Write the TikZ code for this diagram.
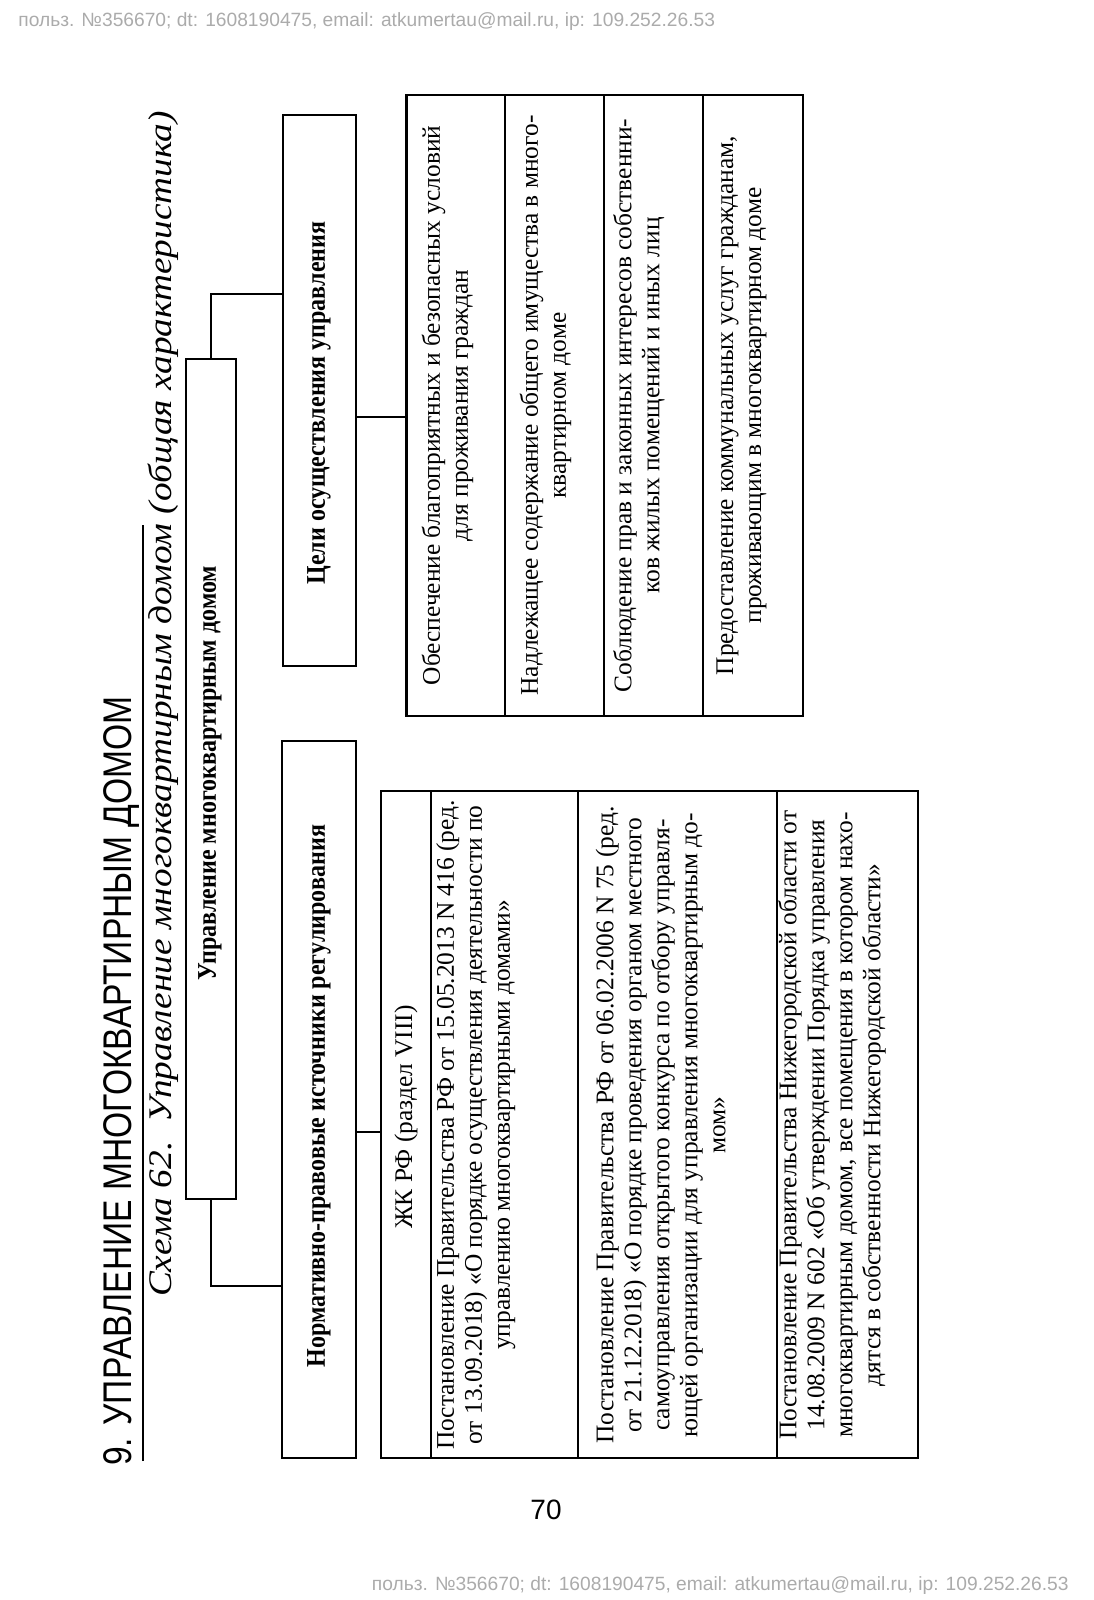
\documentclass[tikz,border=0pt]{standalone}
\usepackage{fontspec}
\setmainfont{Liberation Serif}
\setsansfont{Liberation Sans}
\newfontfamily\titlefont[FakeStretch=0.84]{Liberation Sans}
\newfontfamily\subfont[FakeStretch=1.13]{Liberation Serif}
\newfontfamily\headfont[FakeStretch=0.89]{Liberation Serif}
\begin{document}
\begin{tikzpicture}[x=0.5pt,y=-0.5pt,
  frame/.style={draw, line width=1.1pt, rotate=90, inner sep=0pt},
  conn/.style={line width=0.6pt},
  txt/.style={rotate=90, align=center, inner sep=0pt, font=\fontsize{12.7}{14}\selectfont},
  bld/.style={rotate=90, align=center, inner sep=0pt, font=\headfont\fontsize{13.5}{15}\selectfont\bfseries},
  wm/.style={inner sep=0pt, text=black!33, font=\sffamily\fontsize{9.6}{11}\selectfont},
]
\useasboundingbox (0,0) rectangle (1093,1600);

% watermarks
\node[wm, anchor=west] (wmtop) at (18,22) {польз. №356670; dt: 1608190475, email: atkumertau@mail.ru, ip: 109.252.26.53};
\node[wm, anchor=east] (wmbot) at (1069,1586) {польз. №356670; dt: 1608190475, email: atkumertau@mail.ru, ip: 109.252.26.53};
\node[inner sep=0pt, font=\sffamily\fontsize{14}{16}\selectfont] (pnum) at (546,1510) {70};

% title and subtitle
\node[rotate=90, inner sep=0pt, font=\titlefont\fontsize{20}{22}\selectfont] (title) at (122,1081) {9. УПРАВЛЕНИЕ МНОГОКВАРТИРНЫМ ДОМОМ};
\draw[line width=0.6pt] (143,1461) -- (143,525);
\node[rotate=90, inner sep=0pt, font=\subfont\fontsize{16.5}{18}\selectfont\itshape] (subtitle) at (163,704) {Схема 62.\ \ Управление многоквартирным домом (общая характеристика)};

% frames
\node[frame, minimum width=420pt, minimum height=25pt] (upr) at (211,779) {};
\node[frame, minimum width=275.5pt, minimum height=36.5pt] (goalhead) at (319.5,390.5) {};
\node[frame, minimum width=358.5pt, minimum height=37pt] (normhead) at (319,1099.5) {};

\node[frame, minimum width=310.5pt, minimum height=49.25pt] (g1) at (455.75,405.5) {};
\node[frame, minimum width=310.5pt, minimum height=49.5pt] (g2) at (554.5,405.5) {};
\node[frame, minimum width=310.5pt, minimum height=49.5pt] (g3) at (653.5,405.5) {};
\node[frame, minimum width=310.5pt, minimum height=49.85pt] (g4) at (752.85,405.5) {};

\node[frame, minimum width=333.5pt, minimum height=25pt] (s0) at (406,1124.5) {};
\node[frame, minimum width=333.5pt, minimum height=73.5pt] (s1) at (504.5,1124.5) {};
\node[frame, minimum width=333.5pt, minimum height=99.5pt] (s2) at (677.5,1124.5) {};
\node[frame, minimum width=333.5pt, minimum height=70.5pt] (s3) at (847.5,1124.5) {};

% texts
\node[bld] (uprt) at (210,773) {Управление многоквартирным домом};
\node[bld] (goalt) at (319,403) {Цели осуществления управления};
\node[bld] (normt) at (319,1096) {Нормативно-правовые источники регулирования};

\node[txt] (g1t) at (447.5,405.5) {Обеспечение благоприятных и безопасных условий\\для проживания граждан};
\node[txt] (g2t) at (545.5,405.5) {Надлежащее содержание общего имущества в много-\\квартирном доме};
\node[txt] (g3t) at (639,405.5) {Соблюдение прав и законных интересов собственни-\\ков жилых помещений и иных лиц};
\node[txt] (g4t) at (741.5,405.5) {Предоставление коммунальных услуг гражданам,\\проживающим в многоквартирном доме};

\node[txt] (s0t) at (406,1117) {ЖК РФ (раздел VIII)};
\node[txt] (s1t) at (475.7,1125) {Постановление Правительства РФ от 15.05.2013 N 416 (ред.\\от 13.09.2018) «О порядке осуществления деятельности по\\управлению многоквартирными домами»};
\node[txt] (s2t) at (660.8,1125) {Постановление Правительства РФ от 06.02.2006 N 75 (ред.\\от 21.12.2018) «О порядке проведения органом местного\\самоуправления открытого конкурса по отбору управля-\\ющей организации для управления многоквартирным до-\\мом»};
\node[txt] (s3t) at (832,1125) {Постановление Правительства Нижегородской области от\\14.08.2009 N 602 «Об утверждении Порядка управления\\многоквартирным домом, все помещения в котором нахо-\\дятся в собственности Нижегородской области»};

% connectors
\coordinate (j1) at (0,294);
\coordinate (j2) at (0,1286);
\coordinate (j3) at (0,417);
\coordinate (j4) at (0,1132);
\draw[conn] (upr.east) |- (goalhead.north |- j1);
\draw[conn] (upr.west) |- (normhead.north |- j2);
\draw[conn] (goalhead.south |- j3) -- (g1.north |- j3);
\draw[conn] (normhead.south |- j4) -- (s0.north |- j4);
\end{tikzpicture}
\end{document}
